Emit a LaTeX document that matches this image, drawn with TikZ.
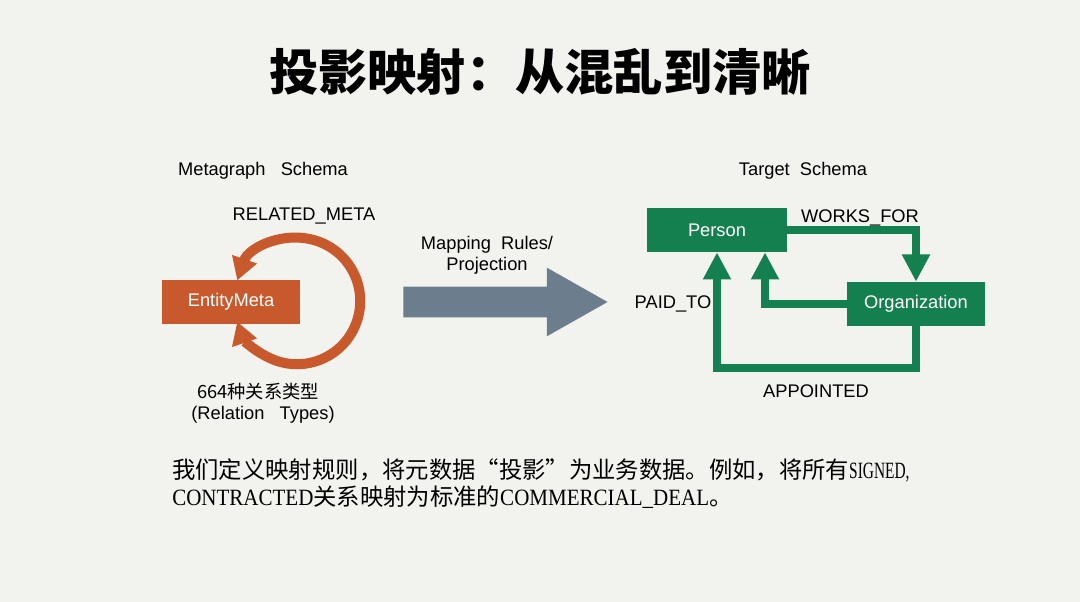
\documentclass[tikz,border=0pt]{standalone}
\usepackage{fontspec}
\setmainfont{Liberation Sans}
\newfontfamily\cjk{Noto Sans CJK SC}
\newfontfamily\latserif[FakeStretch=0.9]{Liberation Serif}
\newfontfamily\latnarrow[FakeStretch=0.66]{Liberation Serif}
\usetikzlibrary{positioning, arrows.meta, shapes.arrows}
\definecolor{bgpaper}{HTML}{F2F2EE}
\definecolor{metaorange}{HTML}{C8592C}
\definecolor{schemagreen}{HTML}{15804F}
\definecolor{mapgray}{HTML}{6C7D8E}
\begin{document}
\begin{tikzpicture}[x=0.025cm, y=0.025cm,
    box/.style={rectangle, minimum width=3.5cm, minimum height=1.1cm, inner sep=0pt, text=white, font=\fontsize{13}{15}\selectfont},
    metabox/.style={box, fill=metaorange, minimum width=3.45cm},
    entbox/.style={box, fill=schemagreen},
    lbl/.style={font=\fontsize{13}{15}\selectfont, inner sep=1pt},
    rel/.style={draw=schemagreen, line width=0.2cm, -{Triangle[width=0.66cm,length=0.68cm]}},
    selfrel/.style={draw=metaorange, line width=0.25cm, {Triangle[width=0.62cm,length=0.56cm]}-{Triangle[width=0.62cm,length=0.56cm]}},
  ]
  \fill[bgpaper] (0,0) rectangle (1080,602);
  \useasboundingbox (0,0) rectangle (1080,602);

  \node[font=\cjk\bfseries\fontsize{35}{40}\selectfont] (title) at (540,530) {投影映射：从混乱到清晰};

  %Metagraph Schema
  \node[lbl] (metaschema) at (263,431) {Metagraph\ \ \ Schema};
  \node[metabox] (entity) at (231,300) {EntityMeta};
  \coordinate (loopc) at (297,301);
  \draw[selfrel] (loopc) ++(161:1.58cm) arc[start angle=161, end angle=-161, radius=1.58cm];
  \node[lbl] (relmeta) at (304,386) {RELATED\_META};
  \node[lbl, font=\cjk\fontsize{13}{15}\selectfont] (count) at (258,210) {664种关系类型};
  \node[lbl] (reltypes) at (263,187) {(Relation\ \ \ Types)};

  %Projection
  \node[single arrow, fill=mapgray, minimum height=5.1cm, inner xsep=0pt, inner ysep=0.375cm,
        single arrow head extend=0.475cm, single arrow tip angle=59] (maprule) at (492,300) {};
  \node[lbl, align=center] (maplabel) at (487,347) {Mapping\ \ Rules/\\Projection};

  %Target Schema
  \node[lbl] (targetschema) at (803,431) {Target\ \ Schema};
  \node[entbox] (person) at (717,372) {Person};
  \node[entbox, minimum width=3.45cm] (org) at (916,298) {Organization};

  %Relacoes: (Partida) -> (Destino)
  \draw[rel] (person.east) -| (org.north);
  \draw[rel] (org.west) -| ([xshift=1.2cm]person.south);
  \draw[rel] (org.south) -- ++(0,-1.05cm) -| (person.south);
  \node[lbl] (worksfor) at (860,384) {WORKS\_FOR};
  \node[lbl] (paidto) at (673,298) {PAID\_TO};
  \node[lbl] (appointed) at (816,211) {APPOINTED};

  %Texto
  \node[anchor=west, inner sep=0pt, font=\fontsize{16.6}{20}\selectfont] (line1) at (172,132)
    {\cjk 我们定义映射规则，将元数据“投影”为业务数据。例如，将所有\latnarrow SIGNED,};
  \node[anchor=west, inner sep=0pt, font=\fontsize{16.6}{20}\selectfont] (line2) at (172,105)
    {\latserif CONTRACTED\cjk 关系映射为标准的\latserif COMMERCIAL\_DEAL\cjk 。};
\end{tikzpicture}
\end{document}
